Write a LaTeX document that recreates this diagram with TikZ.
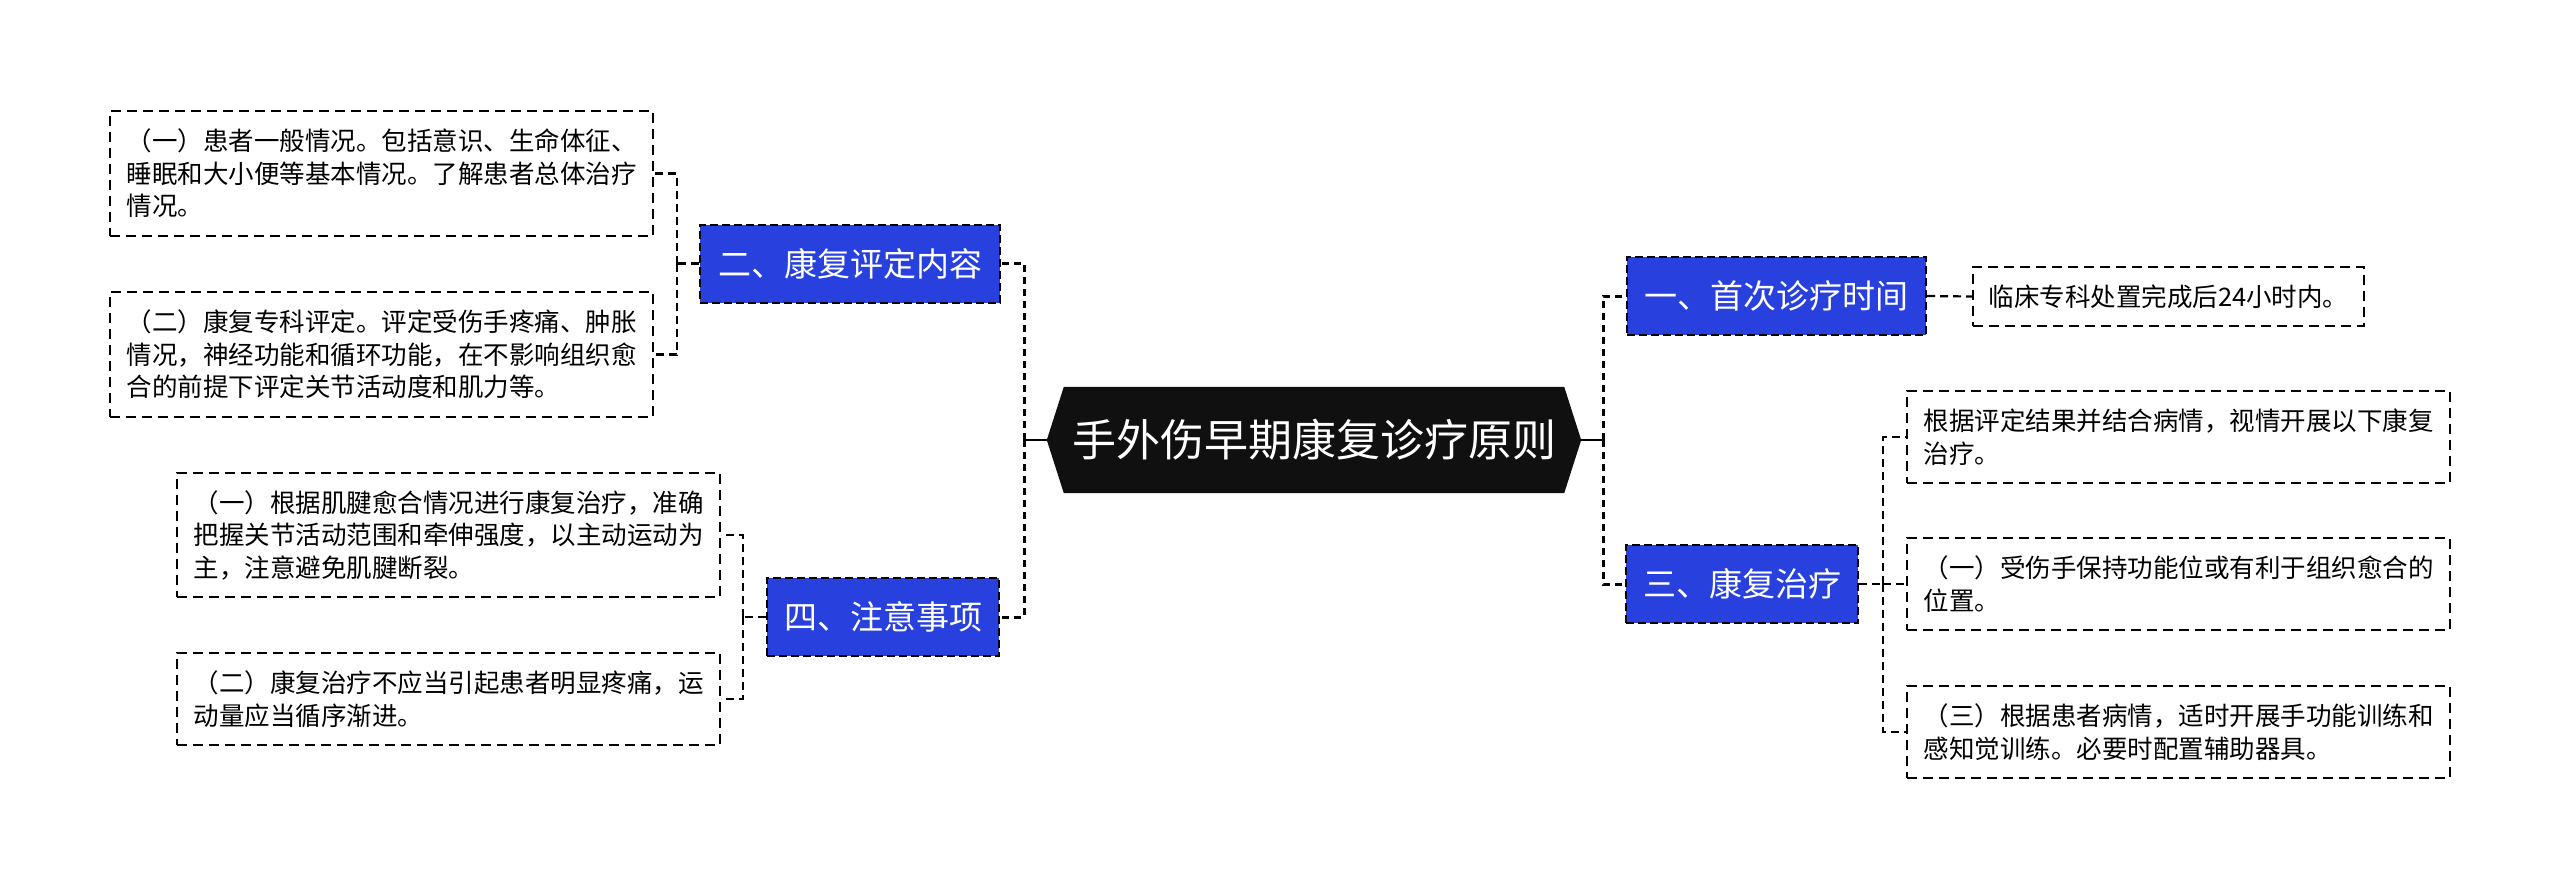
\documentclass[tikz,border=0pt]{standalone}
\usepackage{fontspec}
\setmainfont{Noto Sans CJK SC}
\usetikzlibrary{backgrounds,calc}
\definecolor{nodeblue}{RGB}{40,64,222}
\definecolor{rootblack}{RGB}{16,16,16}
\tikzset{
  rootnode/.style={rectangle, inner sep=0pt, minimum width=534pt, minimum height=106pt, text=white, font=\fontsize{44}{50}\selectfont},
  bluenode/.style={rectangle, draw=black, fill=nodeblue, line width=2pt, dash pattern=on 8pt off 4pt, inner sep=0pt, minimum height=78pt, text=white, font=\fontsize{33}{38}\selectfont},
  leafnode/.style={rectangle, draw=black, line width=2pt, dash pattern=on 10pt off 6pt, inner xsep=14pt, inner ysep=0pt, align=left, minimum width=543pt, font=\fontsize{25.5}{32.5}\selectfont},
  mainconn/.style={draw=black, line width=3pt, dash pattern=on 7pt off 5pt},
  stubconn/.style={draw=black, line width=2.4pt},
  leafconn/.style={draw=black, line width=2.2pt, dash pattern=on 8pt off 5pt},
}
\begin{document}
\begin{tikzpicture}[x=1pt,y=-1pt]
\useasboundingbox (0,0) rectangle (2560,889);
% root
\node[rootnode] (root) at (1314,440) {手外伤早期康复诊疗原则};
\begin{scope}[on background layer]
\fill[rootblack] ($(root.north west)+(17,0)$) -- ($(root.north east)+(-17,0)$) -- (root.east) -- ($(root.south east)+(-17,0)$) -- ($(root.south west)+(17,0)$) -- (root.west) -- cycle;
\end{scope}
% level 1
\node[bluenode, minimum width=300pt] (n2) at (850,263.5) {二、康复评定内容};
\node[bluenode, minimum width=232pt] (n4) at (883,617) {四、注意事项};
\node[bluenode, minimum width=299pt] (n1) at (1776.5,296) {一、首次诊疗时间};
\node[bluenode, minimum width=232pt] (n3) at (1742,584) {三、康复治疗};
% leaves
\node[leafnode, minimum height=125pt] (a1) at (381.5,173.5) {（一）患者一般情况。包括意识、生命体征、\\睡眠和大小便等基本情况。了解患者总体治疗\\情况。};
\node[leafnode, minimum height=125pt] (a2) at (381.5,354.5) {（二）康复专科评定。评定受伤手疼痛、肿胀\\情况，神经功能和循环功能，在不影响组织愈\\合的前提下评定关节活动度和肌力等。};
\node[leafnode, minimum height=124pt] (b1) at (448.5,535) {（一）根据肌腱愈合情况进行康复治疗，准确\\把握关节活动范围和牵伸强度，以主动运动为\\主，注意避免肌腱断裂。};
\node[leafnode, minimum height=92pt] (b2) at (448.5,699) {（二）康复治疗不应当引起患者明显疼痛，运\\动量应当循序渐进。};
\node[leafnode, minimum width=391pt, minimum height=59pt] (c1) at (2168.5,296.5) {临床专科处置完成后24小时内。};
\node[leafnode, minimum height=92pt] (d1) at (2178.5,437) {根据评定结果并结合病情，视情开展以下康复\\治疗。};
\node[leafnode, minimum height=92pt] (d2) at (2178.5,584) {（一）受伤手保持功能位或有利于组织愈合的\\位置。};
\node[leafnode, minimum height=92pt] (d3) at (2178.5,732) {（三）根据患者病情，适时开展手功能训练和\\感知觉训练。必要时配置辅助器具。};
% junctions
\coordinate (L) at (1024,440);
\coordinate (R) at (1603,440);
\coordinate (B2) at (677,263.5);
\coordinate (B4) at (743,617);
\coordinate (B3) at (1883,584);
% root connectors
\draw[stubconn] (root.west) -- (L);
\draw[stubconn] (root.east) -- (R);
\draw[mainconn] (L) |- (n2.east);
\draw[mainconn] (L) |- (n4.east);
\draw[mainconn] (R) |- (n1.west);
\draw[mainconn] (R) |- (n3.west);
% leaf connectors
\draw[leafconn] (n2.west) -- (B2);
\draw[leafconn] (B2) |- (a1.east);
\draw[leafconn] (B2) |- (a2.east);
\draw[leafconn] (n4.west) -- (B4);
\draw[leafconn] (B4) |- (b1.east);
\draw[leafconn] (B4) |- (b2.east);
\draw[leafconn] (n1.east) -- (c1.west);
\draw[leafconn] (n3.east) -- (B3);
\draw[leafconn] (B3) |- (d1.west);
\draw[leafconn] (B3) -- (d2.west);
\draw[leafconn] (B3) |- (d3.west);
\end{tikzpicture}
\end{document}
